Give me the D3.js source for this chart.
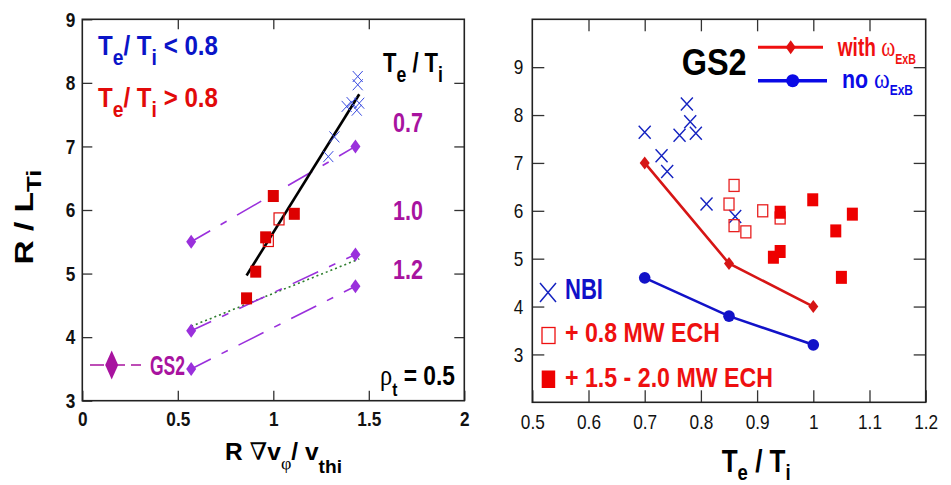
<!DOCTYPE html>
<html>
<head>
<meta charset="utf-8">
<script src="https://cdn.jsdelivr.net/npm/d3@7"></script>
<style>
  body { margin: 0; background: #fff; }
  svg { display: block; }
</style>
</head>
<body>
<script>
// ---- left panel data: R/L_Ti vs R grad(v_phi)/v_thi ----
var gs2Shear = [0.57, 1.43];
var gs2Ratio = ["0.7", "1.0", "1.2"];
var gs2Low = [5.5, 4.1, 3.5];
var gs2High = [7.0, 5.3, 4.8];
var greenShear = [0.57, 1.45];
var greenGrad = [4.17, 5.23];
var fitShear = [0.86, 1.45];
var fitGrad = [4.97, 7.82];
var nbiShear = [1.288, 1.32, 1.384, 1.41, 1.45, 1.437, 1.442, 1.442];
var nbiGrad = [6.84, 7.15, 7.63, 7.69, 7.68, 7.57, 7.97, 8.10];
var ech1Shear = [1.03, 0.974];
var ech1Grad = [5.86, 5.52];
var ech2Shear = [1.0, 1.11, 0.96, 0.908, 0.86];
var ech2Grad = [6.22, 5.94, 5.57, 5.03, 4.61];

// ---- right panel data: R/L_Ti vs Te/Ti ----
var nbiTe = [0.70, 0.775, 0.781, 0.762, 0.791, 0.730, 0.740, 0.810, 0.861];
var nbiGradR = [7.64, 8.23, 7.86, 7.58, 7.62, 7.15, 6.82, 6.14, 5.88];
var ech1Te = [0.859, 0.850, 0.859, 0.880, 0.910, 0.941];
var ech1GradR = [6.53, 6.14, 5.69, 5.56, 6.00, 5.85];
var ech2Te = [0.941, 0.999, 1.0695, 1.040, 0.941, 0.929, 1.05];
var ech2GradR = [5.97, 6.23, 5.93, 5.58, 5.15, 5.03, 4.61];
var gs2Te = [0.7, 0.85, 1.0];
var withExB = [7.0, 4.9, 4.0];
var noExB = [4.6, 3.8, 3.2];

// tick labels
var leftXTicks = [0, 0.5, 1, 1.5, 2];
var leftYTicks = [3, 4, 5, 6, 7, 8, 9];
var rightXTicks = [0.5, 0.6, 0.7, 0.8, 0.9, 1, 1.1, 1.2];
var rightYTicks = [3, 4, 5, 6, 7, 8, 9];

var FONT = "'Liberation Sans Narrow','Arial Narrow','Liberation Sans',Arial,sans-serif";
var SYM = "'Liberation Serif','DejaVu Serif',serif";
var BLUE = "#0a14c8", RED = "#e20a0a", PURPLE = "#9a30dc", MAGENTA = "#a8139f";
var SQUEEZE = 0.82;   // tick labels are a condensed face in the original

var svg = d3.select("body").append("svg")
    .attr("width", 951)
    .attr("height", 485)
    .attr("font-family", FONT);

function zip(a, b) { return a.map(function(d, i) { return [d, b[i]]; }); }

function diamond(w, h) {
    return "M0," + (-h / 2) + "L" + (w / 2) + ",0L0," + (h / 2) + "L" + (-w / 2) + ",0Z";
}
function cross(w, h) {
    return "M" + (-w / 2) + "," + (-h / 2) + "L" + (w / 2) + "," + (h / 2) +
        "M" + (-w / 2) + "," + (h / 2) + "L" + (w / 2) + "," + (-h / 2);
}

// text made of parts, some subscripted; squeezed to a width
function rich(g, x, y, parts, opt) {
    var size = opt.size;
    var t = g.append("text")
        .attr("fill", opt.color || "#000")
        .attr("font-size", size)
        .attr("font-weight", opt.weight || "bold");
    var shift = 0;
    parts.forEach(function(p) {
        var target = p.sub ? (p.dy || size * 0.36) : 0;
        var s = t.append("tspan").text(p.t).attr("dy", target - shift);
        shift = target;
        if (p.sub) s.attr("font-size", p.size || size * 0.8);
        else if (p.size) s.attr("font-size", p.size);
        if (p.font) s.attr("font-family", p.font).attr("font-weight", "normal");
    });
    var bb = t.node().getBBox();
    var sx = opt.width ? opt.width / bb.width : 1;
    if (opt.rotate) {
        t.attr("transform", "translate(" + x + "," + y + ") rotate(-90) scale(" + sx + ",1) translate(" +
            (-bb.x - bb.width / 2) + ",0)");
    } else {
        t.attr("transform", "translate(" + x + "," + y + ") scale(" + sx + ",1) translate(" + (-bb.x) + ",0)");
    }
    return t;
}

function frame(g, x, y, xt, yt, tick, bold, padX, padY) {
    var x0 = x.range()[0], x1 = x.range()[1], y0 = y.range()[0], y1 = y.range()[1];
    var fmt = d3.format("~g");
    var inner = xt.filter(function(d) { return d > x.domain()[0] && d < x.domain()[1]; });
    var innerY = yt.filter(function(d) { return d > y.domain()[0] && d < y.domain()[1]; });

    g.append("g").attr("transform", "translate(0," + y0 + ")")
        .call(d3.axisBottom(x).tickValues(xt).tickSizeInner(-tick).tickSizeOuter(0).tickPadding(padX).tickFormat(fmt));
    g.append("g").attr("transform", "translate(0," + y1 + ")")
        .call(d3.axisTop(x).tickValues(inner).tickSizeInner(-tick).tickSizeOuter(0).tickFormat(""));
    var yAxis = g.append("g").attr("transform", "translate(" + x0 + ",0)")
        .call(d3.axisLeft(y).tickValues(yt).tickSizeInner(-tick).tickSizeOuter(0).tickPadding(padY).tickFormat(fmt));
    g.append("g").attr("transform", "translate(" + x1 + ",0)")
        .call(d3.axisRight(y).tickValues(innerY).tickSizeInner(-tick).tickSizeOuter(0).tickFormat(""));

    g.selectAll(".domain").remove();
    g.selectAll(".tick line").attr("stroke", "#333").attr("stroke-width", 1.3);
    g.selectAll(".tick text")
        .attr("font-family", FONT)
        .attr("font-size", 21)
        .attr("font-weight", bold ? "bold" : "normal")
        .attr("fill", "#111")
        .attr("transform", "scale(" + SQUEEZE + ",1)");
    yAxis.selectAll(".tick text").attr("x", -padY / SQUEEZE);

    g.append("rect")
        .attr("x", x0).attr("y", y1)
        .attr("width", x1 - x0).attr("height", y0 - y1)
        .attr("fill", "none").attr("stroke", "#222").attr("stroke-width", 1.6);
}

// ================= LEFT PANEL =================
var xL = d3.scaleLinear().domain([0, 2]).range([82.3, 464.3]);
var yL = d3.scaleLinear().domain([3, 9]).range([400.7, 19.3]);
var left = svg.append("g");

frame(left, xL, yL, leftXTicks, leftYTicks, 10, true, 10, 7);

var lineL = d3.line().x(function(d) { return xL(d[0]); }).y(function(d) { return yL(d[1]); });

// green dotted reference
left.append("path")
    .attr("d", lineL(zip(greenShear, greenGrad)))
    .attr("fill", "none").attr("stroke", "#2d7d2d")
    .attr("stroke-width", 1.6).attr("stroke-dasharray", "2,3");

// GS2 dash-dot lines
gs2Low.forEach(function(lo, i) {
    left.append("path")
        .attr("d", lineL([[gs2Shear[0], lo], [gs2Shear[1], gs2High[i]]]))
        .attr("fill", "none").attr("stroke", PURPLE)
        .attr("stroke-width", 1.6).attr("stroke-dasharray", "28,12,7,12")
        .attr("stroke-dashoffset", 6);
});

// black fit line
left.append("path")
    .attr("d", lineL(zip(fitShear, fitGrad)))
    .attr("fill", "none").attr("stroke", "#000").attr("stroke-width", 2.6);

// open squares (0.8 MW ECH)
left.selectAll(".ech1").data(zip(ech1Shear, ech1Grad)).enter().append("rect")
    .attr("x", function(d) { return xL(d[0]) - 5; })
    .attr("y", function(d) { return yL(d[1]) - 6; })
    .attr("width", 10).attr("height", 12)
    .attr("fill", "none").attr("stroke", RED).attr("stroke-width", 1.2);

// filled squares (1.5-2.0 MW ECH)
left.selectAll(".ech2").data(zip(ech2Shear, ech2Grad)).enter().append("rect")
    .attr("x", function(d) { return xL(d[0]) - 5.5; })
    .attr("y", function(d) { return yL(d[1]) - 6; })
    .attr("width", 11).attr("height", 12)
    .attr("fill", "#dd0000");

// NBI crosses
left.selectAll(".nbi").data(zip(nbiShear, nbiGrad)).enter().append("path")
    .attr("transform", function(d) { return "translate(" + xL(d[0]) + "," + yL(d[1]) + ")"; })
    .attr("d", cross(10, 11))
    .attr("fill", "none").attr("stroke", "#3a4ce0").attr("stroke-width", 1);

// GS2 diamonds
gs2Low.forEach(function(lo, i) {
    [[gs2Shear[0], lo], [gs2Shear[1], gs2High[i]]].forEach(function(d) {
        left.append("path")
            .attr("transform", "translate(" + xL(d[0]) + "," + yL(d[1]) + ")")
            .attr("d", diamond(10, 14))
            .attr("fill", PURPLE);
    });
});

// left legend / annotations
rich(left, 98, 55, [{t: "T"}, {t: "e", sub: true}, {t: "/ T"}, {t: "i", sub: true}, {t: " < 0.8"}],
    {size: 28, color: BLUE, width: 120});
rich(left, 98, 107, [{t: "T"}, {t: "e", sub: true}, {t: "/ T"}, {t: "i", sub: true}, {t: " > 0.8"}],
    {size: 28, color: RED, width: 120});
rich(left, 383, 72, [{t: "T"}, {t: "e", sub: true}, {t: " / T"}, {t: "i", sub: true}],
    {size: 28, color: "#000", width: 60});
var ratioY = [132, 220, 279];
gs2Ratio.forEach(function(r, i) {
    rich(left, 393, ratioY[i], [{t: r}], {size: 28, color: MAGENTA, width: 30});
});
rich(left, 380, 385, [{t: "\u03c1", font: SYM, size: 30}, {t: "t", sub: true, dy: 11, size: 19}, {t: " = 0.5"}],
    {size: 28, color: "#000", width: 75});

// GS2 legend entry
left.append("path")
    .attr("d", "M90,365H104M117,365H125M131,365H141")
    .attr("stroke", MAGENTA).attr("stroke-width", 1.6);
left.append("path")
    .attr("transform", "translate(111.7,365)")
    .attr("d", diamond(13, 29))
    .attr("fill", MAGENTA);
rich(left, 150, 375, [{t: "GS2"}], {size: 28, color: MAGENTA, width: 35});

// axis titles
rich(left, 33, 217, [{t: "R / L"}, {t: "Ti", sub: true, dy: 8, size: 20}],
    {size: 26, color: "#000", width: 95, rotate: true});
rich(left, 225, 460, [{t: "R "}, {t: "\u2207", font: SYM, size: 24}, {t: "v"}, {t: "\u03c6", sub: true, dy: 9, size: 17, font: SYM},
    {t: "/ v"}, {t: "thi", sub: true, dy: 13, size: 18}],
    {size: 23, color: "#000", width: 117});

// ================= RIGHT PANEL =================
var xR = d3.scaleLinear().domain([0.5, 1.2]).range([532.3, 925.7]);
var yR = d3.scaleLinear().domain([2, 10]).range([402.3, 19.3]);
var right = svg.append("g");

frame(right, xR, yR, rightXTicks, rightYTicks, 12, false, 12, 9);

var lineR = d3.line().x(function(d) { return xR(d[0]); }).y(function(d) { return yR(d[1]); });

// GS2 curves
right.append("path").attr("d", lineR(zip(gs2Te, withExB)))
    .attr("fill", "none").attr("stroke", "#d61515").attr("stroke-width", 2.6);
right.append("path").attr("d", lineR(zip(gs2Te, noExB)))
    .attr("fill", "none").attr("stroke", "#1212c8").attr("stroke-width", 2.6);

// NBI crosses
right.selectAll(".nbi").data(zip(nbiTe, nbiGradR)).enter().append("path")
    .attr("transform", function(d) { return "translate(" + xR(d[0]) + "," + yR(d[1]) + ")"; })
    .attr("d", cross(12, 13))
    .attr("fill", "none").attr("stroke", "#1422c0").attr("stroke-width", 1.4);

// open squares
right.selectAll(".ech1").data(zip(ech1Te, ech1GradR)).enter().append("rect")
    .attr("x", function(d) { return xR(d[0]) - 5; })
    .attr("y", function(d) { return yR(d[1]) - 6; })
    .attr("width", 10).attr("height", 12)
    .attr("fill", "none").attr("stroke", "#e82020").attr("stroke-width", 1.3);

// filled squares
right.selectAll(".ech2").data(zip(ech2Te, ech2GradR)).enter().append("rect")
    .attr("x", function(d) { return xR(d[0]) - 5.5; })
    .attr("y", function(d) { return yR(d[1]) - 6.5; })
    .attr("width", 11).attr("height", 13)
    .attr("fill", "#ee0000");

// GS2 markers
right.selectAll(".dia").data(zip(gs2Te, withExB)).enter().append("path")
    .attr("transform", function(d) { return "translate(" + xR(d[0]) + "," + yR(d[1]) + ")"; })
    .attr("d", diamond(10, 13))
    .attr("fill", "#d61515");
right.selectAll(".circ").data(zip(gs2Te, noExB)).enter().append("circle")
    .attr("cx", function(d) { return xR(d[0]); })
    .attr("cy", function(d) { return yR(d[1]); })
    .attr("r", 5.8)
    .attr("fill", "#1212c8");

// top legend
rich(right, 681.7, 75, [{t: "GS2"}], {size: 37, color: "#000", width: 65});
right.append("line").attr("x1", 758).attr("x2", 823).attr("y1", 47.3).attr("y2", 47.3)
    .attr("stroke", "#f01010").attr("stroke-width", 3);
right.append("path").attr("transform", "translate(790.7,47.3)").attr("d", diamond(10, 14)).attr("fill", "#e01010");
right.append("line").attr("x1", 758).attr("x2", 827).attr("y1", 80.7).attr("y2", 80.7)
    .attr("stroke", "#0a0ae6").attr("stroke-width", 3.4);
right.append("circle").attr("cx", 792.7).attr("cy", 80.7).attr("r", 6.5).attr("fill", "#0a0ae6");
rich(right, 837, 56, [{t: "with "}, {t: "\u03c9", font: SYM, size: 28}, {t: "ExB", sub: true, dy: 8, size: 14}],
    {size: 25, color: "#f01010", width: 79});
rich(right, 842, 88, [{t: "no "}, {t: "\u03c9", font: SYM, size: 28}, {t: "ExB", sub: true, dy: 7, size: 14}],
    {size: 25, color: "#0a0ae6", width: 71});

// bottom-left legend
right.append("path").attr("transform", "translate(548,292.5)").attr("d", cross(16, 19))
    .attr("fill", "none").attr("stroke", "#1422c0").attr("stroke-width", 1.5);
rich(right, 565, 299, [{t: "NBI"}], {size: 29, color: "#1010c8", width: 38});
right.append("rect").attr("x", 542).attr("y", 327.5).attr("width", 13).attr("height", 16)
    .attr("fill", "none").attr("stroke", "#ee1010").attr("stroke-width", 1.3);
rich(right, 565, 341.7, [{t: "+ 0.8 MW ECH"}], {size: 28, color: "#ee1010", width: 155});
right.append("rect").attr("x", 541.7).attr("y", 370.5).attr("width", 13.5).attr("height", 17.5)
    .attr("fill", "#ee0000");
rich(right, 565, 387.3, [{t: "+ 1.5 - 2.0 MW ECH"}], {size: 28, color: "#ee1010", width: 208});

// x title
rich(right, 721.7, 472, [{t: "T"}, {t: "e", sub: true, dy: 8, size: 22}, {t: " / T"}, {t: "i", sub: true, dy: 8, size: 22}],
    {size: 31, color: "#000", width: 69});
</script>
</body>
</html>
